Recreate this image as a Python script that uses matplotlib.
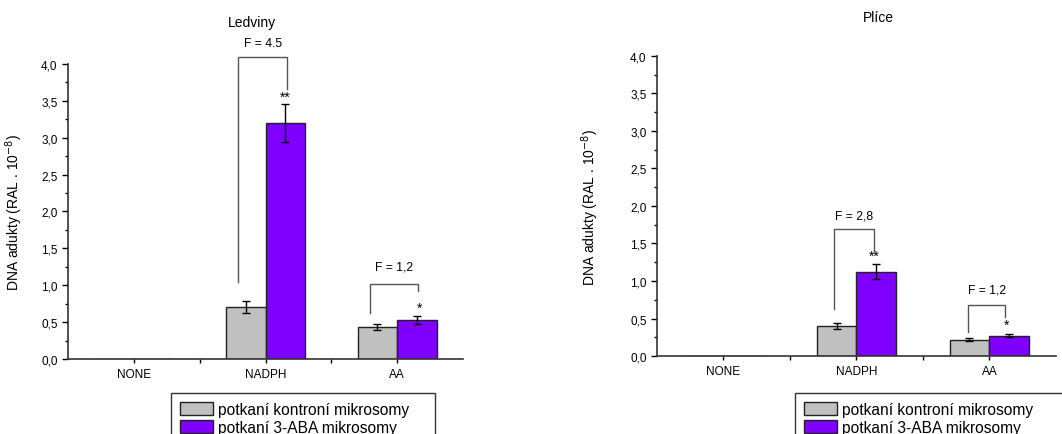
import matplotlib
matplotlib.use("Agg")
import matplotlib.pyplot as plt
import matplotlib.ticker as mtick
import numpy as np

plt.rcParams['font.family'] = ['Liberation Sans', 'DejaVu Sans']

categories = ['NONE', 'NADPH', 'AA']
series_names = [u'potkaní kontroní mikrosomy', u'potkaní 3-ABA mikrosomy']

# Ledviny (kidney)
kid_ctrl = [0.0, 0.71, 0.44]
kid_ctrl_err = [0.0, 0.08, 0.04]
kid_aba = [0.0, 3.20, 0.53]
kid_aba_err = [0.0, 0.26, 0.05]

# Plíce (lung)
lung_ctrl = [0.0, 0.40, 0.22]
lung_ctrl_err = [0.0, 0.04, 0.02]
lung_aba = [0.0, 1.12, 0.27]
lung_aba_err = [0.0, 0.10, 0.02]

c_gray = '#c0c0c0'
c_purple = '#8000ff'
width = 0.3
fmt = mtick.FuncFormatter(lambda v, p: ('%.1f' % v).replace('.', ','))


def bracket(ax, x1, x2, top, y1, y2, text, ty, star, sy, sx):
    ax.plot([x1, x1, x2, x2], [y1, top, top, y2], color='#555555', lw=1,
            clip_on=False)
    ax.text((x1 + x2) / 2, ty, text, ha='center', va='center', fontsize=8.7)
    ax.text(sx, sy, star, ha='center', va='center', fontsize=10)


def panel(rect, title, title_x, title_y, ctrl, ctrl_err, aba, aba_err):
    ax = fig.add_axes(rect)
    x = np.arange(len(categories))
    ax.bar(x - width / 2, ctrl, width, color=c_gray, edgecolor='#222222',
           lw=1, label=series_names[0])
    ax.bar(x + width / 2, aba, width, color=c_purple, edgecolor='#222222',
           lw=1, label=series_names[1])
    m = np.array(ctrl) > 0
    ax.errorbar((x - width / 2)[m], np.array(ctrl)[m], yerr=np.array(ctrl_err)[m],
                fmt='none', ecolor='k', elinewidth=1, capsize=3)
    m = np.array(aba) > 0
    ax.errorbar((x + width / 2)[m], np.array(aba)[m], yerr=np.array(aba_err)[m],
                fmt='none', ecolor='k', elinewidth=1, capsize=3)
    ax.set_xlim(-0.5, 2.5)
    ax.set_ylim(0, 4.0)
    ax.set_xticks(x)
    ax.set_xticklabels(categories, fontsize=8.5)
    ax.set_xticks([0.5, 1.5], minor=True)
    ax.set_yticks(np.arange(0, 4.01, 0.5))
    ax.yaxis.set_minor_locator(mtick.MultipleLocator(0.25))
    ax.yaxis.set_major_formatter(fmt)
    ax.tick_params(axis='y', labelsize=8.5, direction='out', length=4, width=1)
    ax.tick_params(axis='y', which='minor', length=2.5, width=1)
    ax.tick_params(axis='x', which='both', direction='out', length=3, width=1)
    for s in ['top', 'right']:
        ax.spines[s].set_visible(False)
    for s in ['left', 'bottom']:
        ax.spines[s].set_linewidth(1.2)
        ax.spines[s].set_color('#333333')
    ax.set_ylabel('DNA adukty (RAL . 10$^{-8}$)', fontsize=10)
    ax.text(title_x, title_y, title, transform=ax.transAxes,
            ha='center', va='center', fontsize=10)
    return ax


fig = plt.figure(figsize=(10.62, 4.35), dpi=100)

ax1 = panel([0.064, 0.1724, 0.372, 0.6782], 'Ledviny', 0.465, 1.142,
            kid_ctrl, kid_ctrl_err, kid_aba, kid_aba_err)
ax1.yaxis.set_label_coords(-0.108, 0.5)
bracket(ax1, 0.79, 1.167, 4.095, 1.04, 3.66, 'F = 4.5', 4.29, '**', 3.55, 1.15)
bracket(ax1, 1.79, 2.16, 1.02, 0.63, 0.92, 'F = 1,2', 1.25, '*', 0.70, 2.17)

ax2 = panel([0.6186, 0.1793, 0.3757, 0.6897], 'Plíce', 0.555, 1.13,
            lung_ctrl, lung_ctrl_err, lung_aba, lung_aba_err)
ax2.yaxis.set_label_coords(-0.14, 0.5)
bracket(ax2, 0.83, 1.13, 1.69, 0.63, 1.40, 'F = 2,8', 1.87, '**', 1.33, 1.13)
bracket(ax2, 1.84, 2.12, 0.68, 0.32, 0.52, 'F = 1,2', 0.89, '*', 0.42, 2.13)

for ax, x0, w in [(ax1, 171, 264), (ax2, 795, 290)]:
    leg = ax.legend(loc='upper left',
                    bbox_to_anchor=(x0 / 1062, 1 - 394 / 435, w / 1062, 0),
                    bbox_transform=fig.transFigure, mode='expand',
                    fontsize=11.2, fancybox=False, edgecolor='#333333',
                    framealpha=1, handlelength=2.15, handleheight=0.95,
                    handletextpad=0.3, labelspacing=0.2, borderpad=0.55,
                    borderaxespad=0)
    leg.get_frame().set_linewidth(1)

plt.savefig('out.png', dpi=100)
